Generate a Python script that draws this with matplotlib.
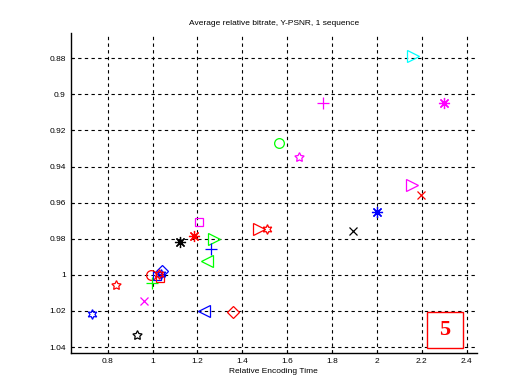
import matplotlib
matplotlib.use("Agg")
import matplotlib.pyplot as plt
from matplotlib.patches import Rectangle

plt.rcParams['font.family'] = ['Liberation Sans', 'DejaVu Sans']

# Relative encoding time and relative bitrate for each configuration
enc_time = [2.162, 1.758, 2.299, 1.565, 1.654, 2.155, 2.196, 2.000, 1.894,
            1.474, 1.512, 1.207, 1.183, 1.122, 1.275, 1.260, 1.244, 1.230,
            1.357, 0.836, 0.962, 0.731, 0.931,
            0.993, 1.018, 1.032, 1.040, 1.036, 1.030, 0.998]
rel_bitrate = [0.879, 0.905, 0.905, 0.9267, 0.935, 0.9503, 0.9559, 0.965, 0.9758,
               0.9747, 0.9747, 0.9706, 0.9784, 0.982, 0.9804, 0.9859, 0.9922, 1.0203,
               1.0208, 1.0055, 1.0144, 1.0216, 1.0335,
               1.0003, 1.0008, 1.0018, 0.998, 0.9995, 0.9998, 1.0046]

PENT = (5, 1, 0)
HEX = (6, 1, 0)
AST = (8, 2, 0)
markers = ['>', '+', AST, 'o', PENT, '>', 'x', AST, 'x',
           '>', HEX, 's', AST, AST, '>', '+', '<', '<',
           'D', PENT, 'x', HEX, PENT,
           'o', 's', 's', 'D', HEX, HEX, '+']
C, M, G = '#00ffff', '#ff00ff', '#00ff00'
colors = [C, M, M, G, M, M, 'r', 'b', 'k',
          'r', 'r', M, 'r', 'k', G, 'b', G, 'b',
          'r', 'r', M, 'b', 'k',
          'r', 'b', 'r', 'b', 'b', 'r', G]
sizes = [8, 9, 8, 7, 7, 8, 6, 8, 6,
         8, 7, 6, 8, 8, 8, 9, 8, 8,
         6, 7, 6, 7, 7,
         7, 6, 6, 6, 7, 7, 9]

fig = plt.figure(figsize=(5.3, 3.87), dpi=100)
ax = fig.add_axes([0.1334, 0.0879, 0.766, 0.827])

for x, y, m, c, s in zip(enc_time, rel_bitrate, markers, colors, sizes):
    ax.plot(x, y, linestyle='none', marker=m, markersize=s, color=c,
            markerfacecolor='none', markeredgecolor=c, markeredgewidth=0.9)

ax.set_xlim(0.635, 2.445)
ax.set_ylim(1.0433, 0.866)
ax.set_xticks([0.8, 1.0, 1.2, 1.4, 1.6, 1.8, 2.0, 2.2, 2.4])
ax.set_xticklabels(['0.8', '1', '1.2', '1.4', '1.6', '1.8', '2', '2.2', '2.4'])
ax.set_yticks([0.88, 0.9, 0.92, 0.94, 0.96, 0.98, 1.0, 1.02, 1.04])
ax.set_yticklabels(['0.88', '0.9', '0.92', '0.94', '0.96', '0.98', '1', '1.02', '1.04'])
ax.tick_params(direction='in', length=2, labelsize=6, width=0.8)
ax.grid(True, color='k', linestyle=(0, (3, 3)), linewidth=0.8)
ax.set_axisbelow(True)
ax.spines['top'].set_visible(False)
ax.spines['right'].set_visible(False)
ax.spines['left'].set_linewidth(1.0)
ax.spines['bottom'].set_linewidth(1.0)

ax.set_title('Average relative bitrate, Y-PSNR, 1 sequence', fontsize=6, pad=6)
ax.set_xlabel('Relative Encoding Time', fontsize=6, labelpad=2)

ax.add_patch(Rectangle((0.878, 0.016), 0.088, 0.112, transform=ax.transAxes,
                       facecolor='white', edgecolor='red', linewidth=1.0,
                       clip_on=False, zorder=5))
ax.text(0.922, 0.072, '5', transform=ax.transAxes, ha='center', va='center',
        color='red', fontsize=16, fontweight='bold', family='Liberation Serif',
        zorder=6)

fig.savefig('out.png', dpi=100)
